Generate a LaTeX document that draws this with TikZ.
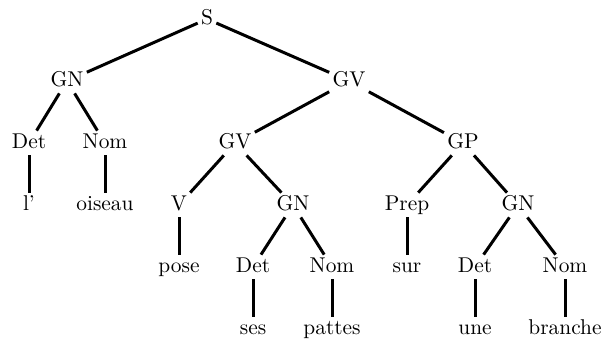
\documentclass[tikz,border=0pt]{standalone}
\begin{document}
\begin{tikzpicture}[x=0.5pt,y=-0.5pt,
  lbl/.style={inner sep=1.5pt, text height=7pt, text depth=2pt, font=\fontsize{10.7}{12}\selectfont},
  edge/.style={line width=1.5pt}]
\useasboundingbox (0,0) rectangle (603,338);
% row 0
\node[lbl] (S) at (207,19) {S};
% row 1
\node[lbl] (GNa) at (67,81) {GN};
\node[lbl] (GVa) at (349,81) {GV};
% row 2
\node[lbl] (Deta) at (29,143) {Det};
\node[lbl] (Noma) at (105,143) {Nom};
\node[lbl] (GVb) at (235,143) {GV};
\node[lbl] (GP) at (463,143) {GP};
% row 3
\node[lbl] (l) at (29,205) {l'};
\node[lbl] (oiseau) at (105,205) {oiseau};
\node[lbl] (V) at (179,205) {V};
\node[lbl] (GNb) at (293,205) {GN};
\node[lbl] (Prep) at (407,205) {Prep};
\node[lbl] (GNc) at (518,205) {GN};
% row 4
\node[lbl] (pose) at (179,267) {pose};
\node[lbl] (Detb) at (253,267) {Det};
\node[lbl] (Nomb) at (332,267) {Nom};
\node[lbl] (sur) at (407,267) {sur};
\node[lbl] (Detc) at (475,267) {Det};
\node[lbl] (Nomc) at (565,267) {Nom};
% row 5
\node[lbl] (ses) at (253,329) {ses};
\node[lbl] (pattes) at (332,329) {pattes};
\node[lbl] (une) at (475,329) {une};
\node[lbl] (branche) at (565,329) {branche};
% edges
\draw[edge] (S) -- (GNa);
\draw[edge] (S) -- (GVa);
\draw[edge] (GNa) -- (Deta);
\draw[edge] (GNa) -- (Noma);
\draw[edge] (Deta) -- (l);
\draw[edge] (Noma) -- (oiseau);
\draw[edge] (GVa) -- (GVb);
\draw[edge] (GVa) -- (GP);
\draw[edge] (GVb) -- (V);
\draw[edge] (GVb) -- (GNb);
\draw[edge] (V) -- (pose);
\draw[edge] (GNb) -- (Detb);
\draw[edge] (GNb) -- (Nomb);
\draw[edge] (Detb) -- (ses);
\draw[edge] (Nomb) -- (pattes);
\draw[edge] (GP) -- (Prep);
\draw[edge] (GP) -- (GNc);
\draw[edge] (Prep) -- (sur);
\draw[edge] (GNc) -- (Detc);
\draw[edge] (GNc) -- (Nomc);
\draw[edge] (Detc) -- (une);
\draw[edge] (Nomc) -- (branche);
\end{tikzpicture}
\end{document}
